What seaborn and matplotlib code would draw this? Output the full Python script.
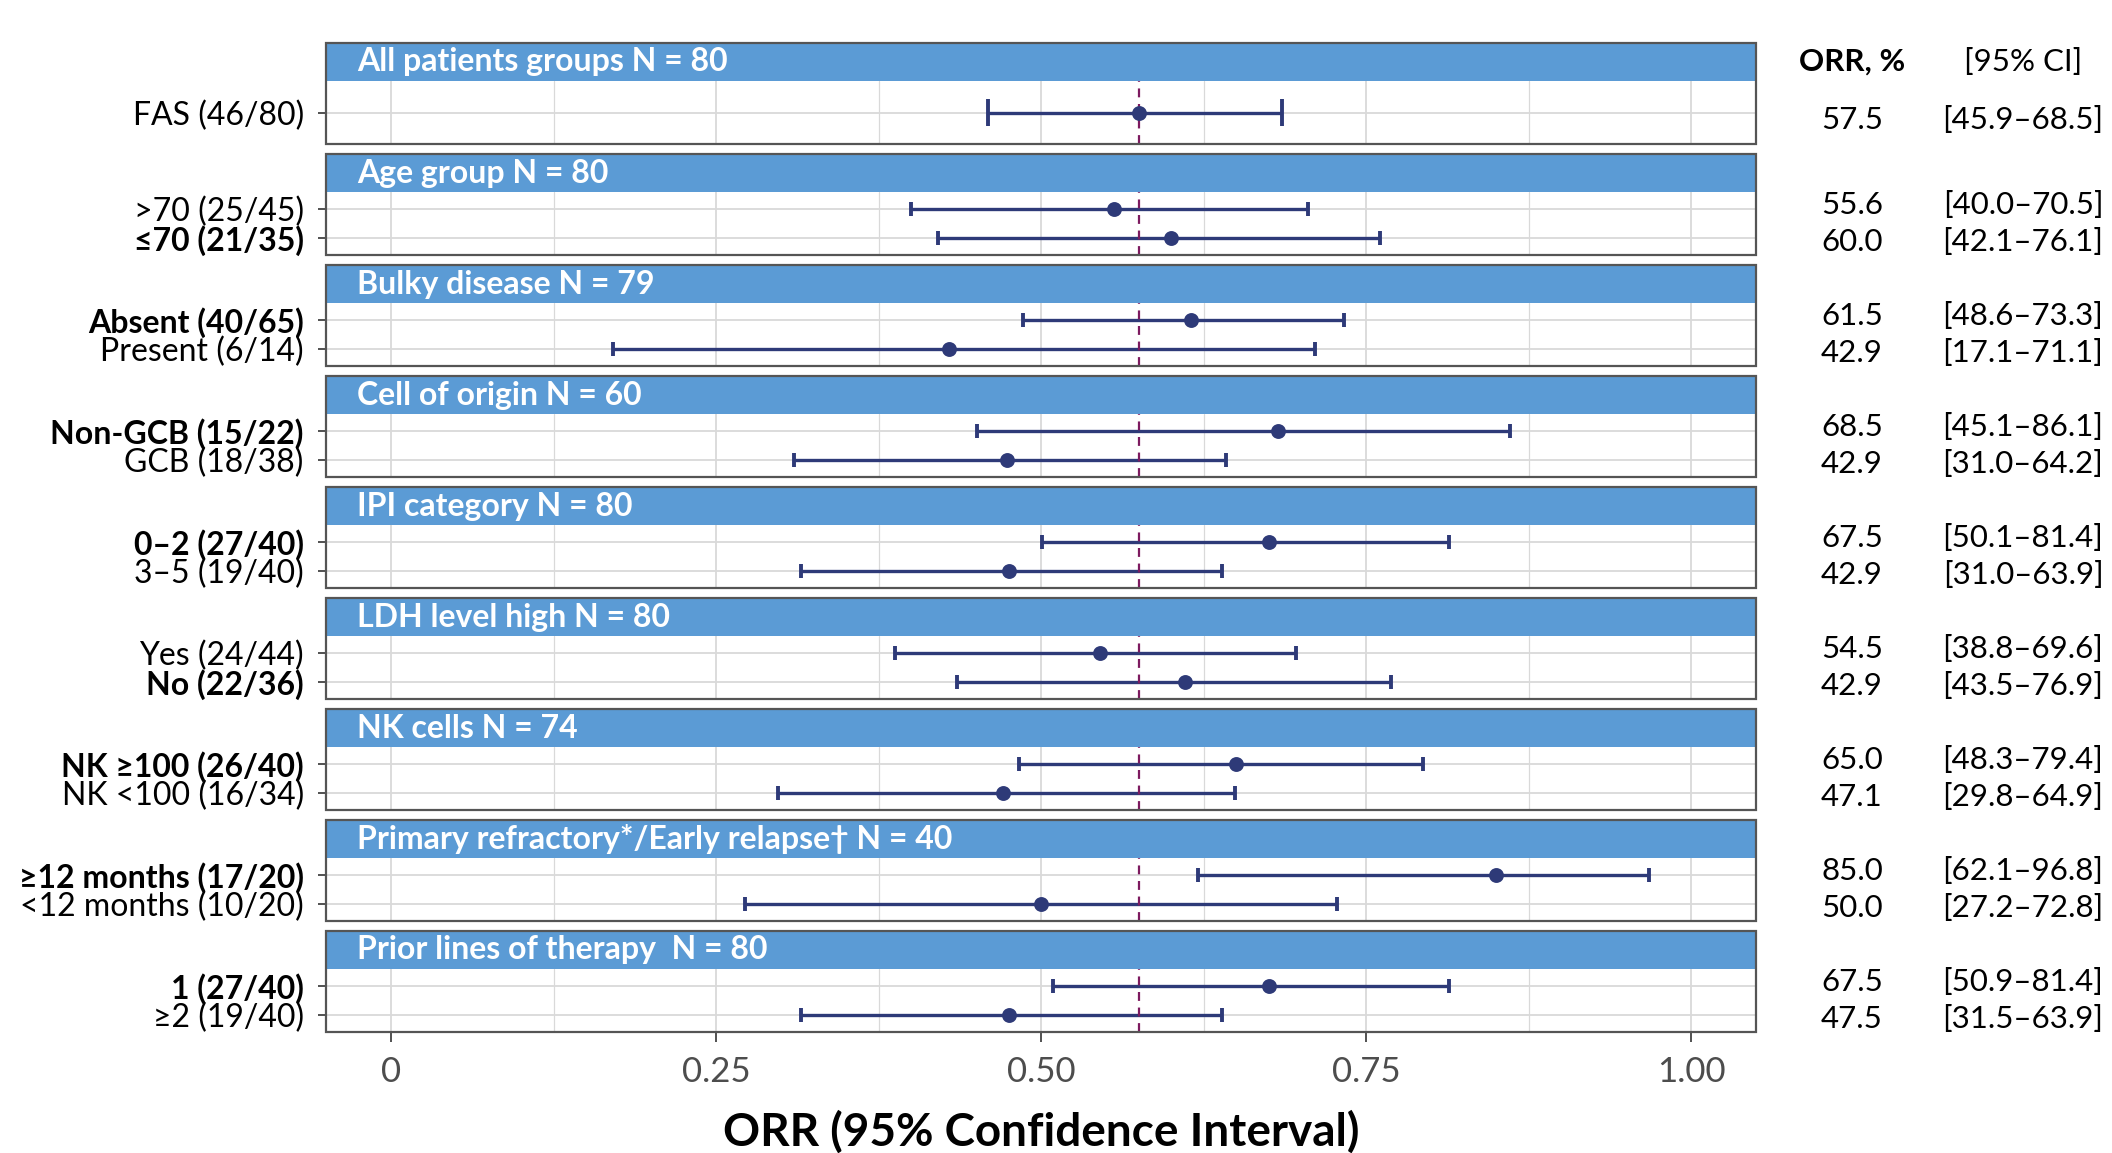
import numpy as np
import pandas as pd
import matplotlib
matplotlib.use("Agg")
import matplotlib.pyplot as plt
import matplotlib.transforms as mtransforms
from matplotlib.patches import Rectangle
import seaborn as sns

# Subgroup data (ORR with 95% CI)
group_titles = [
    "All patients groups N = 80",
    "Age group N = 80",
    "Bulky disease N = 79",
    "Cell of origin N = 60",
    "IPI category N = 80",
    "LDH level high N = 80",
    "NK cells N = 74",
    "Primary refractory*/Early relapse\u2020 N = 40",
    "Prior lines of therapy  N = 80",
]
row_group = [0, 1, 1, 2, 2, 3, 3, 4, 4, 5, 5, 6, 6, 7, 7, 8, 8]
row_labels = [
    "FAS (46/80)",
    ">70 (25/45)", "\u226470 (21/35)",
    "Absent (40/65)", "Present (6/14)",
    "Non-GCB (15/22)", "GCB (18/38)",
    "0\u20132 (27/40)", "3\u20135 (19/40)",
    "Yes (24/44)", "No (22/36)",
    "NK \u2265100 (26/40)", "NK <100 (16/34)",
    "\u226512 months (17/20)", "<12 months (10/20)",
    "1 (27/40)", "\u22652 (19/40)",
]
row_bold = [False, False, True, True, False, True, False, True, False,
            False, True, True, False, True, False, True, False]
orr = [0.575, 0.556, 0.600, 0.615, 0.429, 0.682, 0.474, 0.675, 0.475,
       0.545, 0.611, 0.650, 0.471, 0.850, 0.500, 0.675, 0.475]
ci_low = [0.459, 0.400, 0.421, 0.486, 0.171, 0.451, 0.310, 0.501, 0.315,
          0.388, 0.435, 0.483, 0.298, 0.621, 0.272, 0.509, 0.315]
ci_high = [0.685, 0.705, 0.761, 0.733, 0.711, 0.861, 0.642, 0.814, 0.639,
           0.696, 0.769, 0.794, 0.649, 0.968, 0.728, 0.814, 0.639]
orr_text = ["57.5", "55.6", "60.0", "61.5", "42.9", "68.5", "42.9", "67.5", "42.9",
            "54.5", "42.9", "65.0", "47.1", "85.0", "50.0", "67.5", "47.5"]
ci_text = ["[45.9\u201368.5]", "[40.0\u201370.5]", "[42.1\u201376.1]",
           "[48.6\u201373.3]", "[17.1\u201371.1]", "[45.1\u201386.1]",
           "[31.0\u201364.2]", "[50.1\u201381.4]", "[31.0\u201363.9]",
           "[38.8\u201369.6]", "[43.5\u201376.9]", "[48.3\u201379.4]",
           "[29.8\u201364.9]", "[62.1\u201396.8]", "[27.2\u201372.8]",
           "[50.9\u201381.4]", "[31.5\u201363.9]"]
x_ticks = [0, 0.25, 0.50, 0.75, 1.00]
x_ticklabels = ["0", "0.25", "0.50", "0.75", "1.00"]

df = pd.DataFrame({"group": row_group, "label": row_labels, "bold": row_bold,
                   "orr": orr, "lo": ci_low, "hi": ci_high,
                   "orr_txt": orr_text, "ci_txt": ci_text})
df["pos"] = df.groupby("group").cumcount()
ref_value = df.loc[0, "orr"]

sns.set_theme(style="white")
plt.rcParams["font.family"] = ["Lato", "DejaVu Sans"]

navy = "#2E3A78"
strip_blue = "#5B9BD5"
ref_color = "#7D1A5F"
grid_col = "#D9D9D9"

W, H = 2112, 1153
fig = plt.figure(figsize=(W / 100, H / 100), dpi=100)

# panel geometry in pixels
left_px, right_px = 326, 1756
first_top, step, strip_h, body_h = 43, 111, 38, 63

for g, title in enumerate(group_titles):
    top = first_top + g * step + strip_h
    ax = fig.add_axes([left_px / W, 1 - (top + body_h) / H,
                       (right_px - left_px) / W, body_h / H])
    sub = df[df["group"] == g]
    n = len(sub)

    ax.set_xlim(-0.05, 1.05)
    ax.set_ylim(n - 0.4, -0.6)
    ax.set_xticks(x_ticks)
    ax.set_xticks(np.arange(0.125, 1.0, 0.25), minor=True)
    ax.set_yticks(sub["pos"])
    ax.grid(True, which="major", color=grid_col, lw=1.3, zorder=0)
    ax.grid(True, which="minor", axis="x", color=grid_col, lw=0.9, zorder=0)
    ax.set_axisbelow(True)

    ax.hlines(sub["pos"], sub["lo"], sub["hi"], color=navy, lw=2.4, zorder=2)
    for _, r in sub.iterrows():
        ax.vlines([r["lo"], r["hi"]], r["pos"] - 0.25, r["pos"] + 0.25,
                  color=navy, lw=2.8, zorder=2)
    sns.scatterplot(data=sub, x="orr", y="pos", ax=ax, color=navy, s=115,
                    edgecolor=navy, linewidth=0, zorder=3, legend=False)
    ax.axvline(ref_value, color=ref_color, lw=1.6, ls=(0, (4, 3)), zorder=2.5)

    ax.set_yticklabels(sub["label"], fontsize=23)
    for tl, b in zip(ax.get_yticklabels(), sub["bold"]):
        tl.set_fontweight("bold" if b else "normal")
        tl.set_color("black")
    ax.tick_params(axis="y", left=True, length=6, width=1.2, color="#333333", pad=10)
    ax.set_xlabel("")
    ax.set_ylabel("")
    for s in ax.spines.values():
        s.set_visible(False)

    # strip and border
    sh = strip_h / body_h
    ax.add_patch(Rectangle((0, 1), 1, sh, transform=ax.transAxes,
                           facecolor=strip_blue, edgecolor="none", clip_on=False))
    ax.add_patch(Rectangle((0, 0), 1, 1 + sh, transform=ax.transAxes,
                           fill=False, edgecolor="#555555", lw=1.6, clip_on=False, zorder=5))
    ax.text(0.0215, 1 + sh / 2, title, transform=ax.transAxes, color="white",
            fontsize=23, fontweight="bold", va="center", ha="left")

    # right-hand table
    trans = mtransforms.blended_transform_factory(fig.transFigure, ax.transAxes)
    ys = [0.38] if n == 1 else [0.79, 0.21]
    for yy, (_, r) in zip(ys, sub.iterrows()):
        ax.text(1852 / W, yy, r["orr_txt"], transform=trans, ha="center",
                va="center", fontsize=22.5, color="black")
        ax.text(2023 / W, yy, r["ci_txt"], transform=trans, ha="center",
                va="center", fontsize=22.5, color="black")
    if g == 0:
        ax.text(1852 / W, 1 + sh / 2, "ORR, %", transform=trans, ha="center",
                va="center", fontsize=22.5, fontweight="bold", color="black")
        ax.text(2023 / W, 1 + sh / 2, "[95% CI]", transform=trans, ha="center",
                va="center", fontsize=22.5, color="black")

    if g < len(group_titles) - 1:
        ax.tick_params(axis="x", bottom=False, labelbottom=False)
    else:
        ax.set_xticklabels(x_ticklabels, fontsize=25, color="#4D4D4D")
        ax.tick_params(axis="x", bottom=True, length=7, width=1.2, color="#333333", pad=10)
        ax.tick_params(axis="x", which="minor", bottom=False)
        ax.set_xlabel("ORR (95% Confidence Interval)", fontsize=33,
                      fontweight="bold", labelpad=16, color="black")

fig.savefig("out.png", dpi=100)
